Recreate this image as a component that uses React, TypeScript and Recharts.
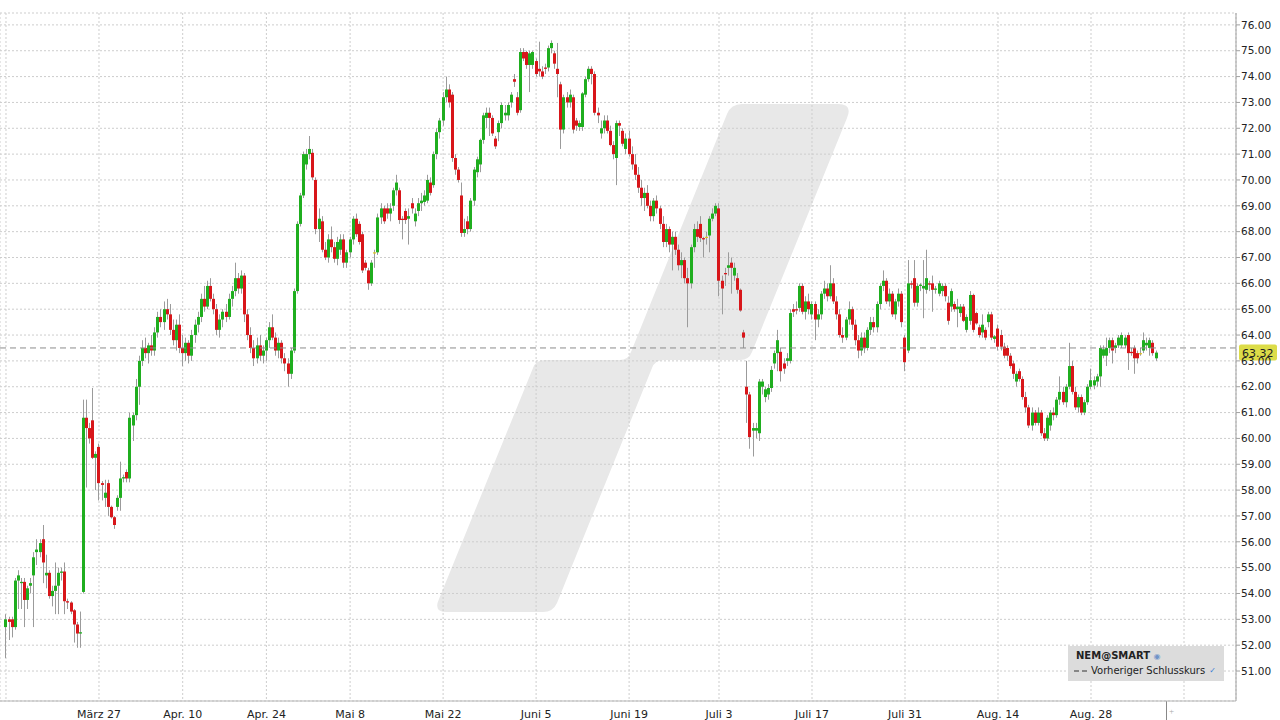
import { ComposedChart, Bar, XAxis, YAxis, CartesianGrid, ReferenceLine } from 'recharts'

type Ohlc = [number, number, number, number] // open, high, low, close

// drei Kerzen pro Handelstag, ein Array je Zwei-Wochen-Abschnitt
const mar13: Ohlc[] = [
  [52.7,53.2,51.5,53.0],[53.0,53.1,52.2,52.9],[53.0,53.1,52.3,52.7],[52.7,54.6,52.6,54.5],[54.5,54.9,53.4,54.7],
  [54.4,54.6,53.4,54.45],[54.45,54.6,52.7,53.75],[53.75,54.3,53.4,54.2],[54.3,54.6,54.0,54.4],[54.7,55.6,52.7,55.4],
  [55.6,56.1,55.1,55.7],[55.6,56.1,55.4,55.95],[56.1,56.65,54.4,55.2],[54.7,55.5,54.2,54.8],[54.8,54.9,53.8,53.9],
  [53.9,54.3,53.5,54.1],[54.1,55.2,53.2,54.3],[54.3,55.0,53.2,54.8],[54.8,55.0,54.5,54.85],[54.85,55.2,53.2,53.7],
  [53.7,53.8,53.4,53.65],[53.65,53.7,53.2,53.3],[53.35,53.4,52.1,52.8],[52.8,52.9,51.9,52.45],[52.45,53.3,51.9,52.5],
  [54.06,61.5,54.0,60.8],[60.8,61.5,58.1,60.4],[60.4,60.6,59.8,60.0],[60.7,61.95,59.2,59.25],[59.25,59.5,58.0,59.4],
]
const mar27: Ohlc[] = [
  [59.67,59.8,57.6,58.27],[58.27,58.35,57.6,58.2],[57.7,58.4,57.35,57.9],[58.27,58.4,57.0,57.35],[57.35,57.4,56.9,56.95],
  [56.95,57.0,56.5,56.65],[57.35,57.8,57.2,57.7],[57.7,59.1,57.2,58.45],[58.45,58.6,58.3,58.5],[58.7,58.8,58.3,58.45],
  [58.45,61.0,58.3,60.8],[60.5,61.0,59.9,60.9],[60.9,62.3,60.7,62.0],[62.0,63.2,61.3,63.0],[63.0,63.8,62.8,63.5],
  [63.5,63.9,63.1,63.3],[63.3,63.7,62.9,63.6],[63.6,64.0,63.2,63.4],[63.4,64.3,63.2,64.1],[64.1,64.9,63.9,64.7],
  [64.7,65.0,64.3,64.5],[64.5,65.3,64.2,65.0],[65.0,65.4,64.6,64.8],[64.8,65.2,64.0,64.2],[64.2,64.6,63.6,63.8],
  [63.8,64.6,63.4,64.4],[64.4,64.8,63.3,63.5],
]
const apr10: Ohlc[] = [
  [63.5,64.0,62.8,63.3],[63.3,63.9,63.0,63.7],[63.7,63.8,62.9,63.2],[63.2,64.2,63.0,64.0],[64.0,64.6,63.7,64.4],
  [64.4,64.9,64.1,64.7],[64.7,65.6,64.5,65.4],[65.4,65.9,64.9,65.1],[65.1,66.1,65.0,65.9],[65.9,66.2,65.3,65.4],
  [65.4,65.6,64.8,65.0],[65.0,65.2,64.0,64.2],[64.2,64.8,63.9,64.6],[64.6,65.0,64.3,64.9],[64.9,65.2,64.5,64.7],
  [64.7,65.6,64.6,65.4],[65.4,65.9,65.1,65.7],[65.7,66.8,65.5,66.2],[66.2,66.4,65.6,65.8],[65.8,66.5,65.6,66.3],
  [66.3,66.4,64.5,64.8],[64.8,65.0,63.8,64.0],[64.0,64.3,63.3,63.5],[63.5,63.8,62.8,63.1],[63.1,63.9,62.9,63.6],
  [63.6,64.0,63.0,63.2],[63.2,63.6,62.9,63.4],
]
const apr24: Ohlc[] = [
  [63.4,63.9,63.0,63.8],[63.8,64.5,63.5,64.3],[64.3,64.8,63.8,63.9],[63.9,64.1,63.2,63.4],[63.4,63.9,63.1,63.7],
  [63.7,63.8,62.9,63.1],[63.1,63.3,62.6,62.9],[62.9,63.1,62.0,62.5],[62.5,63.5,62.3,63.4],[63.4,65.8,63.3,65.7],
  [65.7,68.4,65.6,68.3],[68.3,69.5,68.2,69.4],[69.4,71.1,69.3,71.0],[70.6,71.2,70.4,71.0],[71.0,71.7,70.8,71.2],
  [71.05,71.2,70.0,70.1],[70.0,70.1,67.9,68.1],[68.1,68.9,67.6,68.5],[68.4,68.6,67.2,67.3],[67.3,67.6,66.9,67.0],
  [67.0,67.9,66.8,67.7],[67.7,68.2,67.2,67.4],[67.4,67.6,66.8,66.95],[66.95,67.8,66.7,67.6],[67.3,67.9,67.1,67.7],
  [67.7,67.9,66.6,66.8],[66.8,67.3,66.6,67.2],
]
const may8: Ohlc[] = [
  [67.2,67.8,67.0,67.7],[67.7,68.6,67.5,68.5],[68.5,68.7,67.8,67.9],[68.3,68.4,67.5,67.6],[67.9,68.0,66.4,66.5],
  [66.8,66.9,66.5,66.6],[66.5,66.6,65.75,66.0],[66.0,66.9,65.9,66.8],[67.2,67.3,66.6,67.2],[67.2,68.7,67.1,68.55],
  [68.55,69.1,68.3,68.9],[68.9,69.0,68.3,68.4],[68.9,69.1,68.5,68.7],[68.7,69.1,68.4,68.9],[69.0,69.7,68.8,69.6],
  [69.6,70.2,69.4,69.9],[69.6,69.7,68.3,68.45],[68.5,68.6,67.7,68.45],[68.8,68.9,68.3,68.45],[68.5,68.9,67.5,68.6],
  [69.1,69.3,68.7,68.9],[68.4,68.9,68.2,68.7],[68.8,69.3,68.6,69.1],[69.1,69.5,68.8,69.2],[69.15,69.6,69.0,69.4],
  [69.2,70.2,69.1,70.0],[69.9,70.1,69.4,69.5],[69.8,71.1,69.7,71.0],[71.0,72.0,70.8,71.85],[71.85,72.4,71.6,72.3],
]
const may22: Ohlc[] = [
  [72.3,73.4,72.1,73.2],[73.2,74.0,73.0,73.5],[73.5,73.7,72.8,73.0],[73.3,73.4,70.7,70.85],[70.85,71.0,70.2,70.4],
  [70.4,70.5,69.9,70.0],[69.4,69.9,67.8,67.95],[67.95,68.5,67.8,68.1],[68.4,68.6,67.9,68.1],[68.1,69.3,68.0,69.2],
  [69.2,70.5,69.0,70.4],[70.3,70.9,70.1,70.8],[70.6,71.6,70.3,71.55],[71.55,72.6,71.4,72.5],[72.4,72.8,72.0,72.6],
  [72.6,72.8,71.7,72.4],[72.4,72.5,71.7,71.8],[71.6,71.7,71.2,71.3],[71.85,72.3,71.5,72.2],[72.2,73.0,72.0,72.9],
  [72.5,72.9,72.3,72.6],[72.5,73.0,72.3,72.9],[73.0,73.4,72.8,73.3],[73.9,74.1,73.6,73.8],[73.2,73.4,72.5,72.6],
  [72.7,75.1,72.6,74.95],[74.95,75.1,74.6,74.7],[74.95,75.0,74.3,74.45],[74.45,75.0,73.4,74.9],[74.45,75.0,74.3,74.95],
]
const jun5: Ohlc[] = [
  [74.6,74.7,74.0,74.1],[74.3,75.35,74.0,74.2],[74.2,74.4,73.9,74.0],[74.35,74.5,74.1,74.3],[74.35,75.2,74.2,75.1],
  [75.1,75.4,74.9,75.3],[74.9,75.0,74.3,74.5],[74.3,75.3,73.2,74.1],[73.7,73.8,71.2,71.95],[71.95,73.3,71.8,73.2],
  [73.2,73.4,72.8,73.0],[73.0,73.5,72.8,73.3],[73.2,73.3,71.8,71.95],[72.3,72.4,71.9,72.1],[72.05,72.3,71.9,72.2],
  [72.05,73.4,71.9,73.35],[73.3,74.0,73.2,73.9],[73.9,74.4,73.8,74.3],[74.3,74.4,73.7,74.1],[74.1,74.2,72.5,72.6],
  [72.6,72.8,72.2,72.5],[71.8,72.3,71.6,72.0],[72.0,72.5,71.8,72.3],[72.3,72.5,71.8,71.9],[71.9,72.1,71.3,71.35],
  [71.35,71.5,70.8,71.0],[70.85,72.3,69.8,72.2],[72.2,72.3,71.7,72.1],[71.9,72.0,71.3,71.4],[71.2,71.8,71.0,71.6],
]
const jun19: Ohlc[] = [
  [71.6,71.9,70.9,71.0],[71.0,71.3,70.4,70.6],[70.6,71.0,70.0,70.2],[70.2,70.5,69.5,69.7],[69.7,70.0,69.0,69.3],
  [69.3,69.7,68.8,69.5],[69.5,69.8,68.9,69.0],[69.0,69.2,68.4,68.6],[68.6,69.3,68.4,69.2],[69.2,69.4,68.7,68.9],
  [68.9,69.0,68.1,68.3],[68.3,68.6,67.4,67.6],[67.6,68.3,67.4,68.1],[68.1,68.2,67.2,67.5],[67.5,68.0,66.5,67.8],
  [67.8,68.0,67.1,67.3],[67.3,67.5,66.5,66.7],[66.7,67.2,66.2,66.9],[66.9,67.0,66.0,66.2],[66.2,66.6,64.3,66.0],
  [66.0,67.5,65.8,67.4],[67.4,68.3,67.2,68.1],[68.1,68.4,67.6,67.8],[68.3,68.6,67.6,67.75],[67.75,67.8,67.0,67.7],
  [67.8,68.0,67.5,67.8],[67.85,68.6,67.2,68.5],[68.5,68.9,68.4,68.7],[68.7,69.1,68.6,69.0],
]
const jul3: Ohlc[] = [
  [68.9,69.1,65.5,66.1],[66.1,66.3,64.8,65.8],[66.4,66.6,65.9,66.35],[66.6,67.2,66.3,66.7],[66.8,67.0,65.6,66.6],
  [66.3,66.8,66.1,66.6],[66.2,66.4,65.6,65.75],[65.75,65.8,64.9,64.95],[64.1,64.2,63.5,63.9],[62.0,63.0,60.6,61.7],
  [61.7,61.8,59.6,60.05],[60.3,60.6,59.3,60.4],[60.3,60.6,60.0,60.4],[60.2,62.3,59.9,62.2],[62.0,62.3,61.7,62.2],
  [61.6,62.0,61.4,61.9],[61.7,62.1,61.5,61.95],[61.95,62.8,61.8,62.65],[62.9,63.4,62.7,63.3],[63.3,64.2,62.6,63.8],
  [63.35,63.5,62.2,62.6],[62.9,63.1,62.5,62.7],[63.0,63.3,62.8,63.1],[63.0,65.0,62.9,64.85],[65.0,65.2,64.7,64.9],
  [65.0,65.3,64.8,64.95],[65.05,66.0,64.9,65.9],[65.9,66.0,64.8,64.9],[64.9,65.5,64.6,65.3],[65.3,65.6,64.8,65.0],
]
const jul17: Ohlc[] = [
  [64.8,65.3,64.6,65.2],[65.2,65.3,63.8,64.6],[64.6,65.0,64.3,64.8],[64.8,65.7,64.6,65.6],[65.6,66.1,65.4,65.8],
  [65.8,66.0,65.3,65.5],[65.5,66.7,65.4,66.0],[66.0,66.2,65.2,65.3],[65.3,65.5,64.6,64.8],[64.8,65.0,63.9,64.0],
  [64.0,64.3,63.7,63.9],[63.9,64.7,63.8,64.6],[64.6,65.3,64.4,65.0],[65.0,65.1,64.2,64.4],[64.4,64.6,63.6,63.8],
  [63.8,64.0,63.1,63.4],[63.4,64.1,63.2,63.9],[63.9,64.1,63.3,63.5],[63.5,64.3,63.4,64.2],[64.2,64.7,64.0,64.5],
  [64.5,64.7,64.1,64.3],[64.3,65.3,64.1,65.2],[65.2,66.0,65.0,65.9],[65.9,66.5,65.7,66.1],[66.1,66.2,65.2,65.3],
  [65.3,65.8,65.1,65.6],[65.6,65.7,64.7,64.8],[64.8,65.4,64.6,65.3],[65.3,65.8,65.1,65.6],[65.6,65.7,64.3,64.5],
]
const jul31: Ohlc[] = [
  [63.9,64.0,62.6,62.95],[63.4,66.9,63.3,66.0],[66.0,66.1,65.8,65.95],[66.2,66.9,65.1,65.25],[65.25,66.0,65.1,65.9],
  [65.9,66.0,65.7,65.95],[65.8,66.9,64.65,65.9],[65.75,67.3,65.6,66.2],[66.0,66.1,65.7,65.95],[66.0,66.3,64.9,65.75],
  [65.75,65.9,65.6,65.8],[65.6,66.1,65.5,66.0],[65.7,66.0,65.5,65.9],[65.9,66.0,65.3,65.5],[65.25,65.5,64.4,64.55],
  [65.1,65.8,64.9,65.7],[65.2,65.3,64.9,65.0],[65.0,65.4,64.3,65.1],[64.85,65.2,64.7,65.1],[65.1,65.2,64.5,64.55],
  [64.2,64.8,64.1,64.7],[64.55,65.7,64.4,65.55],[65.55,65.6,64.1,64.2],[64.85,64.9,64.4,64.45],[64.3,64.4,63.9,64.0],
  [64.1,64.8,63.9,64.4],[64.2,64.3,63.8,63.9],[64.5,64.9,64.3,64.8],[64.8,64.9,63.8,63.9],[63.85,64.0,63.7,63.95],
]
const aug14: Ohlc[] = [
  [64.25,64.4,63.4,63.55],[64.0,64.2,63.4,63.55],[63.55,63.7,63.1,63.2],[63.5,63.6,63.0,63.2],[63.2,63.3,62.7,62.8],
  [62.9,63.0,62.3,62.5],[62.2,62.6,62.0,62.5],[62.6,62.7,62.2,62.3],[62.3,62.4,61.5,61.6],[61.6,61.8,61.0,61.2],
  [61.2,61.3,60.4,60.5],[60.5,61.2,60.3,61.0],[61.0,61.1,60.5,60.6],[60.6,61.2,60.5,61.0],[61.0,61.1,60.1,60.2],
  [60.2,60.4,59.9,60.0],[60.0,60.9,59.9,60.8],[60.5,61.1,60.3,61.0],[61.0,61.2,60.7,60.9],[60.9,61.6,60.8,61.5],
  [61.5,62.4,61.3,61.8],[61.8,62.0,61.3,61.4],[61.4,62.1,61.2,62.0],[62.0,63.7,61.9,62.8],[62.8,63.0,61.7,61.8],
  [61.8,62.0,61.1,61.2],[61.2,61.7,61.0,61.6],[61.6,61.7,60.9,61.0],[61.0,61.5,60.9,61.4],[61.4,62.1,61.3,62.0],
]
const aug28: Ohlc[] = [
  [62.0,62.7,61.9,62.25],[62.05,62.4,61.9,62.25],[62.2,62.5,62.0,62.4],[62.4,63.6,62.0,63.5],[63.2,63.6,63.1,63.45],
  [63.2,63.9,62.8,63.5],[63.5,63.9,63.3,63.8],[63.8,63.9,62.9,63.4],[63.5,63.7,63.3,63.6],[63.6,64.0,63.5,63.9],
  [63.6,64.1,63.5,64.0],[63.6,64.0,63.5,63.9],[64.0,64.1,62.65,63.3],[63.35,63.5,63.2,63.3],[63.5,63.6,62.5,63.1],
  [63.3,63.4,62.9,63.1],[63.3,63.5,63.2,63.3],[63.4,64.1,63.3,63.8],[63.6,63.9,63.4,63.7],[63.5,63.9,63.2,63.8],
  [63.7,63.8,63.2,63.3],[63.1,63.4,63.0,63.32],
]

const periods = [mar13, mar27, apr10, apr24, may8, may22, jun5, jun19, jul3, jul17, jul31, aug14, aug28]

// Kerzen-Index, an dem die Datumsmarke steht
const tickIdx = [0, 30, 57, 84, 111, 141, 171, 201, 230, 260, 290, 320, 350, 380]
const tickLabels = ['', 'März 27', 'Apr. 10', 'Apr. 24', 'Mai 8', 'Mai 22', 'Juni 5', 'Juni 19', 'Juli 3', 'Juli 17', 'Juli 31', 'Aug. 14', 'Aug. 28', '']
const priceTicks = [51, 52, 53, 54, 55, 56, 57, 58, 59, 60, 61, 62, 63, 64, 65, 66, 67, 68, 69, 70, 71, 72, 73, 74, 75, 76]
const prevClose = 63.5
const lastPrice = 63.32

const FONT = "'DejaVu Sans', Verdana, sans-serif"
const UP = '#1fae1f', DOWN = '#d8161a', FLAT = '#e2c21c', WICK = '#9b9b9b'

const data = periods.flat().map(([o, h, l, c], i) => ({ i, o, h, l, c, range: [l, h] }))

function Candle(props: any) {
  const { x, y, width, height, payload } = props
  if (!payload || height == null) return null
  const { o, h, l, c } = payload
  const top = height < 0 ? y + height : y
  const span = Math.abs(height)
  const k = h > l ? span / (h - l) : 0
  const py = (v: number) => top + (h - v) * k
  const mid = Math.floor(x + width / 2)
  const yo = py(o), yc = py(c)
  const fill = c > o ? UP : c < o ? DOWN : FLAT
  return (
    <g>
      <line x1={mid + 0.5} x2={mid + 0.5} y1={top} y2={top + span} stroke={WICK} />
      <rect x={mid - 1} y={Math.min(yo, yc)} width={3} height={Math.max(1.2, Math.abs(yc - yo))} fill={fill} />
    </g>
  )
}

function LastPrice({ viewBox }: any) {
  if (!viewBox) return null
  const x = viewBox.x + viewBox.width + 3
  const y = viewBox.y
  return (
    <g>
      <rect x={x} y={y - 8} width={38} height={16} rx={2} fill="#dcdc48" />
      <text x={x + 3} y={y + 4} fontSize={11} fontFamily={FONT} fill="#222">{lastPrice.toFixed(2)}</text>
    </g>
  )
}

const dateLabel = (v: number) => {
  const k = tickIdx.indexOf(v)
  return k >= 0 ? tickLabels[k] : ''
}

export default function App() {
  return (
    <div style={{ position: 'absolute', left: 0, top: 0, width: 1280, height: 720, background: '#fff', overflow: 'hidden' }}>
      <svg width={1280} height={720} style={{ position: 'absolute', left: 0, top: 0 }}>
        <path
          d="M 742 104 L 838 104 Q 853 104 847 118 L 752 352 Q 749 360 740 360 L 664 360 Q 655 360 652 368 L 557 603 Q 553 612 543 612 L 447 612 Q 433 612 439 599 L 533 368 Q 536 360 545 360 L 620 360 Q 628 360 631 352 L 727 114 Q 731 104 742 104 Z"
          fill="#e8e8e8"
        />
        <line x1={1166.5} x2={1166.5} y1={701} y2={720} stroke="#888" />
        <text x={1169} y={714} fontSize={9} fill="#aaa">+</text>
      </svg>
      <div style={{ position: 'absolute', left: 0, top: 0 }}>
        <ComposedChart width={1280} height={720} data={data} margin={{ top: 13, right: 0, bottom: 0, left: 0 }}>
          <CartesianGrid strokeDasharray="2 2" stroke="#cdcdcd" />
          <XAxis
            dataKey="i" type="number" domain={[-1.935, 396.77]} allowDataOverflow
            ticks={tickIdx} interval={0} tickFormatter={dateLabel}
            height={19} tickLine={false} tickMargin={3}
            axisLine={{ stroke: '#b5b5b5' }}
            tick={{ fontSize: 11, fill: '#222', fontFamily: FONT }}
          />
          <YAxis
            orientation="right" type="number" domain={[49.84, 76.46]} allowDataOverflow
            ticks={priceTicks} interval={0} tickFormatter={(v: number) => v.toFixed(2)}
            width={44} tickSize={4} tickMargin={1}
            axisLine={{ stroke: '#a0a0a0' }} tickLine={{ stroke: '#a0a0a0' }}
            tick={{ fontSize: 10.5, fill: '#222', fontFamily: FONT }}
          />
          <ReferenceLine y={prevClose} stroke="#8c8c8c" strokeDasharray="6 4" />
          <Bar dataKey="range" barSize={3} isAnimationActive={false} shape={(p: any) => <Candle {...p} />} />
          <ReferenceLine y={lastPrice} stroke="none" label={<LastPrice />} />
        </ComposedChart>
      </div>
      <div style={{ position: 'absolute', left: 1068, top: 646, width: 156, height: 35, background: '#dcdcdc', fontFamily: FONT, fontSize: 10, color: '#222' }}>
        <div style={{ position: 'absolute', left: 8, top: 4, fontWeight: 'bold', whiteSpace: 'nowrap' }}>
          NEM@SMART <span style={{ color: '#6f93c8', fontSize: 8, fontWeight: 'normal' }}>◉</span>
        </div>
        <div style={{ position: 'absolute', left: 6, top: 19, whiteSpace: 'nowrap', display: 'flex', alignItems: 'center' }}>
          <svg width={14} height={8} style={{ marginRight: 3 }}>
            <line x1={0} x2={14} y1={4} y2={4} stroke="#333" strokeDasharray="5 3" />
          </svg>
          Vorheriger Schlusskurs <span style={{ color: '#3a7bd5', fontSize: 8, marginLeft: 4 }}>✓</span>
        </div>
      </div>
    </div>
  )
}
